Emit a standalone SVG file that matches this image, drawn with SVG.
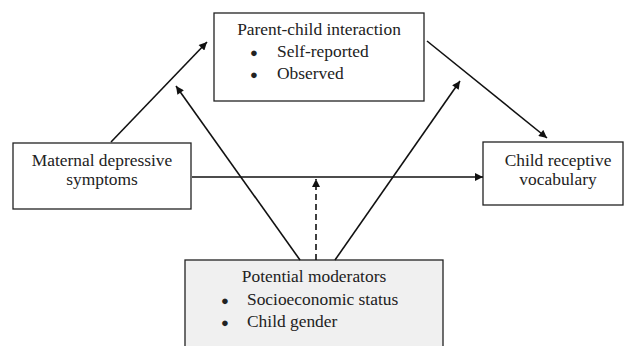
<svg xmlns="http://www.w3.org/2000/svg" width="624" height="346" viewBox="0 0 624 346">
<style>
.box{fill:#fff;stroke:#222;stroke-width:1.3}
.mod{fill:#f0f0f0;stroke:#222;stroke-width:1.3}
text{font-family:'Liberation Serif','Times New Roman',Tinos,serif;font-size:17.4px;fill:#222}
.c{text-anchor:middle}
.b{font-size:13px}
.ln{stroke:#111;stroke-width:1.6;fill:none;marker-end:url(#ah)}
.d{stroke-dasharray:6,4}
</style>
<defs>
<marker id="ah" viewBox="0 0 10 10" refX="10" refY="5" markerWidth="9" markerHeight="8" markerUnits="userSpaceOnUse" orient="auto"><path d="M0,0 L10,5 L0,10 z" fill="#111"/></marker>
</defs>
<g id="parent">
<rect class="box" x="214" y="13" width="210" height="88"/>
<text x="319" y="35" class="c">Parent-child interaction</text>
<text x="254" y="57" class="c b">●</text><text x="277" y="57">Self-reported</text>
<text x="254" y="79" class="c b">●</text><text x="277" y="79">Observed</text>
</g>
<g id="maternal">
<rect class="box" x="13" y="143" width="178" height="66"/>
<text x="102" y="166" class="c">Maternal depressive</text>
<text x="102" y="185" class="c">symptoms</text>
</g>
<g id="child">
<rect class="box" x="483" y="142" width="140" height="63"/>
<text x="558" y="166" class="c">Child receptive</text>
<text x="558" y="185" class="c">vocabulary</text>
</g>
<g id="moderators">
<rect class="mod" x="185" y="260" width="258" height="100"/>
<text x="314" y="282" class="c">Potential moderators</text>
<text x="225" y="305" class="c b">●</text><text x="247" y="305">Socioeconomic status</text>
<text x="225" y="327" class="c b">●</text><text x="247" y="327">Child gender</text>
</g>
<g id="connectors">
<line class="ln" x1="111" y1="142" x2="207" y2="42"/>
<line class="ln" x1="300" y1="260" x2="176" y2="86"/>
<line class="ln" x1="335" y1="260" x2="460" y2="81"/>
<line class="ln" x1="427" y1="41" x2="547" y2="138"/>
<line class="ln" x1="192" y1="177" x2="483" y2="177"/>
<line class="ln d" x1="316" y1="260" x2="316" y2="179"/>
</g>
</svg>
